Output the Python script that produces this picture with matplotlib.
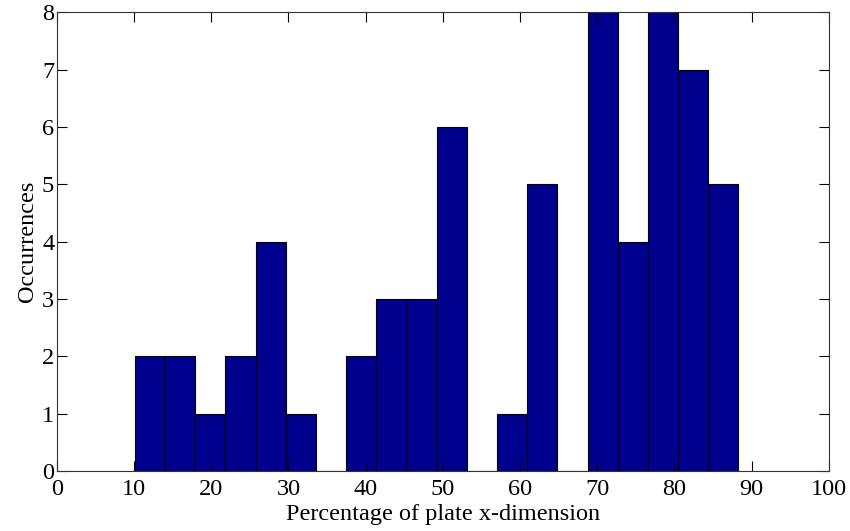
import numpy as np
import matplotlib
matplotlib.use("Agg")
import matplotlib.pyplot as plt

# histogram counts (20 bins)
counts = [2, 2, 1, 2, 4, 1, 0, 2, 3, 3, 6, 0, 1, 5, 0, 8, 4, 8, 7, 5]
bin_start = 10.1
bin_end = 88.3
xticks = [0, 10, 20, 30, 40, 50, 60, 70, 80, 90, 100]
yticks = [0, 1, 2, 3, 4, 5, 6, 7, 8]

plt.rcParams['font.family'] = ['Liberation Serif', 'DejaVu Serif']

edges = np.linspace(bin_start, bin_end, len(counts) + 1)
widths = np.diff(edges)

fig = plt.figure(figsize=(8.5, 5.31), dpi=100)
ax = fig.add_axes([0.067, 0.113, 0.908, 0.864])

ax.bar(edges[:-1], counts, width=widths, align='edge',
       color='#00008F', edgecolor='black', linewidth=0.8)

ax.set_xlim(0, 100)
ax.set_ylim(0, 8)
ax.set_xticks(xticks)
ax.set_yticks(yticks)
ax.tick_params(direction='in', top=True, right=True, length=7,
               labelsize=17.5, width=0.8)
ax.tick_params(axis='x', pad=6)
ax.tick_params(axis='y', pad=2)
ax.set_xlabel('Percentage of plate x-dimension', fontsize=17.5, labelpad=2.5)
ax.set_ylabel('Occurrences', fontsize=17.5, labelpad=3)
for s in ax.spines.values():
    s.set_linewidth(0.8)
    s.set_color('#333333')

fig.savefig('out.png', dpi=100)
